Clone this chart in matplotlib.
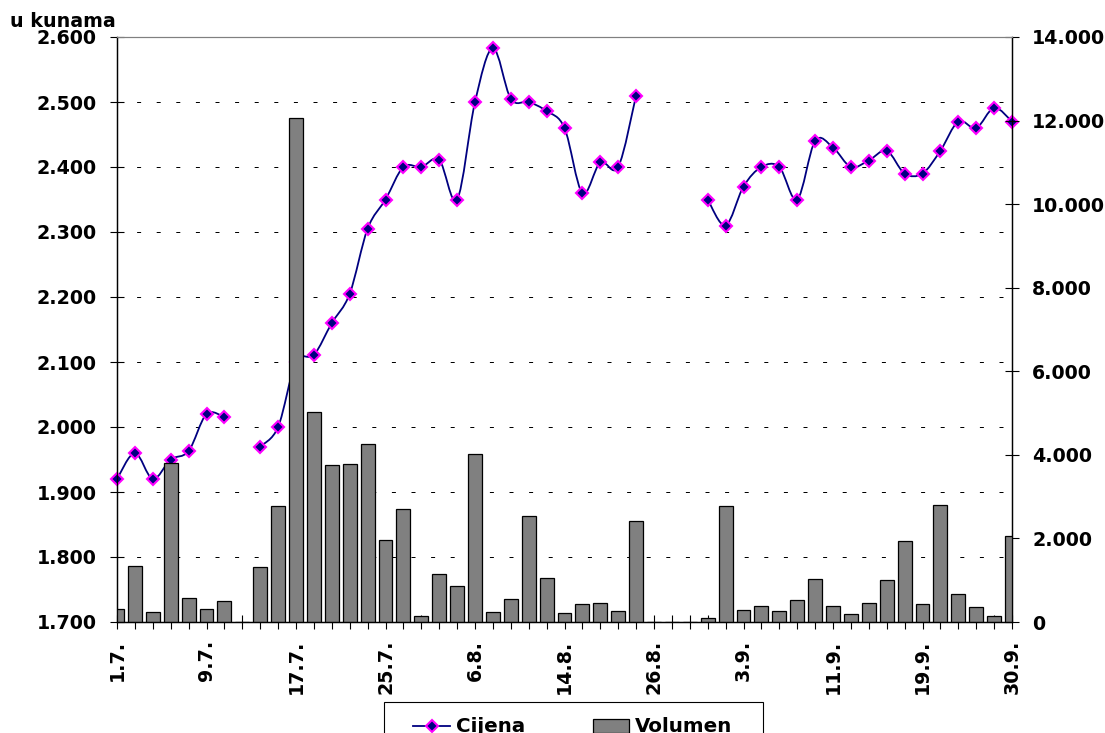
import numpy as np
import matplotlib
matplotlib.use('Agg')
import matplotlib.pyplot as plt
from matplotlib.path import Path
from matplotlib.patches import PathPatch, Rectangle, Patch
from matplotlib.lines import Line2D
from matplotlib.ticker import FuncFormatter, MultipleLocator

# ---------------- data ----------------
price = [1.920, 1.960, 1.920, 1.950, 1.963, 2.020, 2.015, None,
         1.970, 2.000, 2.100, 2.111, 2.160, 2.205, 2.305, 2.350, 2.400, 2.400,
         2.411, 2.350, 2.500, 2.583, 2.505, 2.500, 2.486, 2.460, 2.360, 2.407,
         2.400, 2.510, None, None, None,
         2.350, 2.310, 2.370, 2.400, 2.400, 2.350, 2.440, 2.430, 2.400, 2.410,
         2.425, 2.390, 2.390, 2.425, 2.470, 2.460, 2.491, 2.470]
volume = [300, 1330, 230, 3810, 570, 320, 510, 0, 1320, 2770,
          12060, 5030, 3760, 3770, 4260, 1955, 2700, 150, 1160, 850,
          4020, 250, 540, 2530, 1050, 220, 420, 450, 260, 2420,
          0, 0, 0, 100, 2780, 290, 380, 260, 530, 1040,
          380, 180, 450, 1010, 1950, 420, 2800, 660, 360, 140, 2070]
tick_labels = ['1.7.', '9.7.', '17.7.', '25.7.', '6.8.', '14.8.', '26.8.',
               '3.9.', '11.9.', '19.9.', '30.9.']
label_step = 5
series_names = ['Cijena', 'Volumen']
y_title = 'u kunama'

# ---------------- style ----------------
plt.rcParams['font.family'] = ['DejaVu Sans']
plt.rcParams['font.weight'] = 'bold'
FS = 13.7
NAVY = '#000080'
MAG = '#FF00FF'
GRAY = '#808080'

W, H = 1105, 733
fig = plt.figure(figsize=(W / 100, H / 100), dpi=100)
L, R, T, B = 117, 1012, 37, 622
ax = fig.add_axes([L / W, (H - B) / H, (R - L) / W, (B - T) / H])
ax2 = ax.twinx()

n = len(price)
x = np.arange(n)
p = np.array([np.nan if v is None else v for v in price], dtype=float)

# smoothed line (Bezier through the points, Excel-like smoothing)
def smooth_path(xs, ys):
    pts = np.column_stack([xs, ys])
    m = len(pts)
    verts = [pts[0]]
    codes = [Path.MOVETO]
    for i in range(m - 1):
        p0 = pts[i - 1] if i > 0 else pts[i]
        p1 = pts[i]
        p2 = pts[i + 1]
        p3 = pts[i + 2] if i + 2 < m else pts[i + 1]
        c1 = p1 + (p2 - p0) / 6.0
        c2 = p2 - (p3 - p1) / 6.0
        verts += [c1, c2, p2]
        codes += [Path.CURVE4] * 3
    return Path(verts, codes)

valid = ~np.isnan(p)
start = None
for i in range(n + 1):
    if i < n and valid[i]:
        if start is None:
            start = i
    else:
        if start is not None:
            seg = slice(start, i)
            if i - start > 1:
                ax.add_patch(PathPatch(smooth_path(x[seg], p[seg]), fill=False,
                                       edgecolor=NAVY, lw=1.3, zorder=3))
            start = None

ax.plot(x, p, linestyle='none', marker='D', mfc=NAVY, mec=MAG, ms=6,
        mew=1.5, zorder=4, clip_on=False)

# bars on secondary axis (drawn above the line)
ax2.bar(x, volume, width=0.78, color=GRAY, edgecolor='black', linewidth=0.9,
        zorder=2)

# axes limits
ax.set_xlim(0, n - 1)
ax.set_ylim(1.7, 2.6)
ax2.set_ylim(0, 14000)

ax.yaxis.set_major_locator(MultipleLocator(0.1))
ax2.yaxis.set_major_locator(MultipleLocator(2000))
ax.yaxis.set_major_formatter(FuncFormatter(lambda v, pos: f'{v:.3f}'))
ax2.yaxis.set_major_formatter(
    FuncFormatter(lambda v, pos: f'{v:,.0f}'.replace(',', '.')))

ax.set_xticks(x)
xl = [''] * n
for k, lab in enumerate(tick_labels):
    xl[k * label_step] = lab
ax.set_xticklabels(xl, rotation=90, fontsize=FS, fontweight='bold')

# grid
ax.set_axisbelow(True)
ax.yaxis.grid(True, color='black', linestyle=(0, (4, 15.6)), linewidth=0.72)
ax.xaxis.grid(False)

# ticks
TL = 10.5
ax.tick_params(axis='y', direction='inout', length=TL, width=0.8,
               labelsize=FS, pad=9.2)
ax.tick_params(axis='x', direction='inout', length=TL, width=0.8,
               labelsize=FS, pad=7.5)
ax2.tick_params(axis='y', direction='inout', length=TL, width=0.8,
                labelsize=FS, pad=9.2)
for lab in ax.get_yticklabels() + ax2.get_yticklabels():
    lab.set_fontweight('bold')

for a in (ax, ax2):
    a.spines['top'].set_color(GRAY)
    for s in ('left', 'right', 'bottom'):
        a.spines[s].set_color('black')
        a.spines[s].set_linewidth(0.9)
    a.set_facecolor('none')

fig.text(10 / W, (H - 27) / H, y_title, fontsize=FS, fontweight='bold',
         ha='left', va='baseline')

# legend
handles = [Line2D([0], [0], color=NAVY, lw=1.3, marker='D', mfc=NAVY, mec=MAG,
                  ms=6, mew=1.5),
           Patch(facecolor=GRAY, edgecolor='black', linewidth=0.9)]
fig.legend(handles, series_names, loc='center',
           bbox_to_anchor=(573 / W, (H - 727) / H), ncol=2, frameon=False,
           handlelength=1.84, handletextpad=0.3, columnspacing=3.4,
           borderpad=0, prop=dict(size=FS + 0.6, weight='bold'))
fig.add_artist(Rectangle((384 / W, -0.06), 379 / W, 0.06 + 31 / H,
                         transform=fig.transFigure, fill=False,
                         edgecolor='black', lw=0.8))

fig.savefig('out.png', dpi=100)
